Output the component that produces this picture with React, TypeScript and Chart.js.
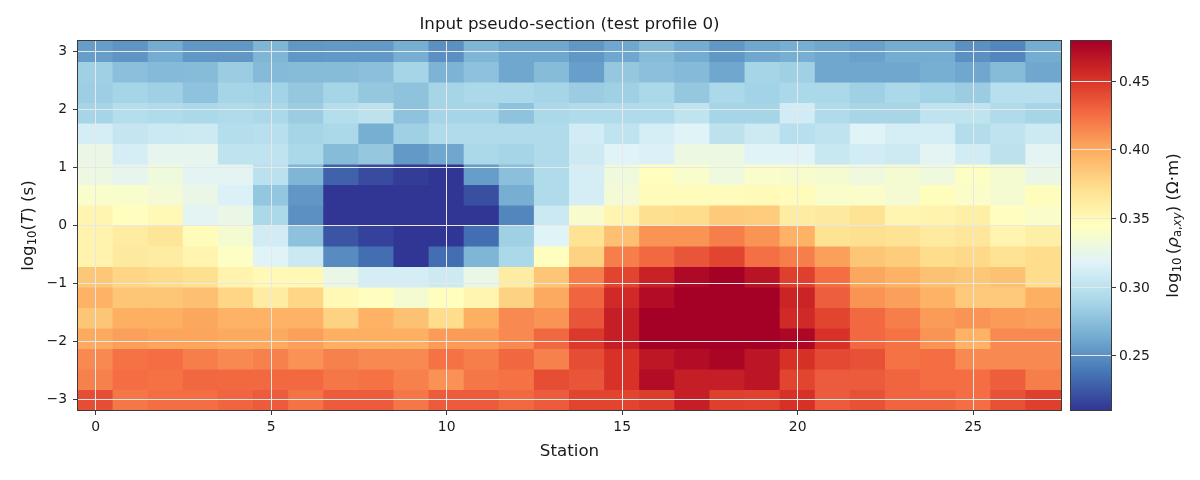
import { useEffect, useRef } from "react";
import { Chart, registerables } from "chart.js";

Chart.register(...registerables);

// Stations along the profile
const stations = [0, 1, 2, 3, 4, 5, 6, 7, 8, 9, 10, 11, 12, 13, 14, 15, 16, 17, 18, 19, 20, 21, 22, 23, 24, 25, 26, 27];

// log10 of the period T (s) for each row, from the longest period down
const logPeriods = [3.0, 2.647, 2.294, 1.941, 1.588, 1.235, 0.882, 0.529, 0.176, -0.176, -0.529, -0.882, -1.235, -1.588, -1.941, -2.294, -2.647, -3.0];

const xTickValues = [0, 5, 10, 15, 20, 25];
const yTickValues = [-3, -2, -1, 0, 1, 2, 3];
const cbTickValues = [0.25, 0.3, 0.35, 0.4, 0.45];

// log10 apparent resistivity (xy) per period row, one value per station
const rhoP00 = [0.256, 0.252, 0.264, 0.253, 0.253, 0.269, 0.253, 0.254, 0.254, 0.265, 0.250, 0.269, 0.261, 0.261, 0.253, 0.261, 0.273, 0.264, 0.253, 0.261, 0.265, 0.261, 0.258, 0.264, 0.264, 0.250, 0.245, 0.264];
const rhoP01 = [0.285, 0.275, 0.272, 0.273, 0.283, 0.272, 0.273, 0.273, 0.275, 0.288, 0.268, 0.276, 0.261, 0.273, 0.257, 0.280, 0.275, 0.272, 0.261, 0.288, 0.285, 0.261, 0.261, 0.261, 0.265, 0.261, 0.273, 0.261];
const rhoP02 = [0.284, 0.288, 0.285, 0.277, 0.288, 0.287, 0.280, 0.288, 0.280, 0.277, 0.288, 0.291, 0.291, 0.288, 0.283, 0.285, 0.291, 0.280, 0.291, 0.287, 0.291, 0.291, 0.285, 0.291, 0.287, 0.283, 0.297, 0.297];
const rhoP03 = [0.288, 0.296, 0.293, 0.291, 0.293, 0.291, 0.283, 0.296, 0.300, 0.277, 0.288, 0.288, 0.277, 0.291, 0.293, 0.293, 0.293, 0.301, 0.288, 0.288, 0.310, 0.293, 0.289, 0.289, 0.301, 0.301, 0.293, 0.288];
const rhoP04 = [0.312, 0.304, 0.307, 0.308, 0.296, 0.297, 0.288, 0.291, 0.265, 0.285, 0.293, 0.293, 0.293, 0.293, 0.310, 0.301, 0.312, 0.318, 0.300, 0.308, 0.297, 0.301, 0.318, 0.312, 0.312, 0.295, 0.301, 0.308];
const rhoP05 = [0.326, 0.312, 0.323, 0.323, 0.301, 0.301, 0.291, 0.273, 0.280, 0.254, 0.261, 0.291, 0.288, 0.293, 0.308, 0.318, 0.315, 0.328, 0.328, 0.318, 0.318, 0.305, 0.310, 0.308, 0.320, 0.310, 0.300, 0.320];
const rhoP06 = [0.328, 0.323, 0.331, 0.320, 0.320, 0.299, 0.269, 0.229, 0.219, 0.213, 0.210, 0.256, 0.275, 0.293, 0.312, 0.331, 0.345, 0.339, 0.330, 0.339, 0.338, 0.336, 0.330, 0.336, 0.330, 0.342, 0.336, 0.326];
const rhoP07 = [0.339, 0.339, 0.334, 0.326, 0.315, 0.279, 0.253, 0.210, 0.210, 0.210, 0.210, 0.221, 0.265, 0.293, 0.312, 0.334, 0.347, 0.347, 0.347, 0.349, 0.347, 0.340, 0.340, 0.335, 0.346, 0.340, 0.336, 0.346];
const rhoP08 = [0.353, 0.345, 0.350, 0.320, 0.326, 0.291, 0.250, 0.210, 0.210, 0.210, 0.210, 0.210, 0.245, 0.307, 0.338, 0.353, 0.371, 0.373, 0.384, 0.382, 0.361, 0.363, 0.369, 0.353, 0.355, 0.358, 0.345, 0.340];
const rhoP09 = [0.355, 0.361, 0.366, 0.347, 0.336, 0.310, 0.276, 0.223, 0.215, 0.210, 0.210, 0.234, 0.285, 0.318, 0.369, 0.389, 0.409, 0.409, 0.418, 0.409, 0.396, 0.369, 0.371, 0.369, 0.362, 0.365, 0.353, 0.358];
const rhoP10 = [0.355, 0.363, 0.361, 0.353, 0.342, 0.318, 0.307, 0.248, 0.234, 0.210, 0.234, 0.269, 0.291, 0.345, 0.379, 0.418, 0.427, 0.436, 0.443, 0.424, 0.418, 0.404, 0.386, 0.382, 0.373, 0.375, 0.369, 0.373];
const rhoP11 = [0.385, 0.377, 0.374, 0.371, 0.355, 0.350, 0.350, 0.326, 0.312, 0.312, 0.308, 0.326, 0.361, 0.386, 0.418, 0.443, 0.460, 0.474, 0.479, 0.468, 0.445, 0.425, 0.401, 0.396, 0.388, 0.385, 0.388, 0.373];
const rhoP12 = [0.396, 0.386, 0.386, 0.389, 0.377, 0.361, 0.377, 0.350, 0.345, 0.336, 0.345, 0.353, 0.379, 0.400, 0.429, 0.456, 0.472, 0.479, 0.479, 0.479, 0.459, 0.432, 0.409, 0.404, 0.396, 0.384, 0.384, 0.398];
const rhoP13 = [0.386, 0.398, 0.398, 0.401, 0.396, 0.396, 0.396, 0.379, 0.396, 0.388, 0.373, 0.398, 0.413, 0.409, 0.436, 0.462, 0.479, 0.479, 0.479, 0.479, 0.456, 0.443, 0.427, 0.418, 0.406, 0.409, 0.406, 0.404];
const rhoP14 = [0.400, 0.404, 0.402, 0.402, 0.400, 0.400, 0.404, 0.398, 0.398, 0.398, 0.406, 0.406, 0.413, 0.428, 0.448, 0.462, 0.479, 0.479, 0.479, 0.479, 0.475, 0.451, 0.427, 0.423, 0.409, 0.396, 0.413, 0.413];
const rhoP15 = [0.413, 0.423, 0.425, 0.418, 0.413, 0.417, 0.410, 0.417, 0.413, 0.413, 0.423, 0.418, 0.428, 0.417, 0.439, 0.451, 0.466, 0.472, 0.476, 0.467, 0.452, 0.441, 0.437, 0.423, 0.425, 0.413, 0.413, 0.413];
const rhoP16 = [0.417, 0.425, 0.423, 0.428, 0.427, 0.427, 0.427, 0.421, 0.423, 0.417, 0.410, 0.421, 0.423, 0.439, 0.436, 0.451, 0.472, 0.462, 0.462, 0.467, 0.443, 0.433, 0.433, 0.429, 0.425, 0.425, 0.432, 0.418];
const rhoP17 = [0.439, 0.421, 0.425, 0.425, 0.429, 0.433, 0.423, 0.433, 0.433, 0.421, 0.433, 0.433, 0.427, 0.433, 0.443, 0.443, 0.447, 0.462, 0.445, 0.444, 0.452, 0.433, 0.437, 0.429, 0.429, 0.425, 0.437, 0.445];

const rhoRows = [rhoP00, rhoP01, rhoP02, rhoP03, rhoP04, rhoP05, rhoP06, rhoP07, rhoP08, rhoP09, rhoP10, rhoP11, rhoP12, rhoP13, rhoP14, rhoP15, rhoP16, rhoP17];

// Colour limits follow the data range
const allValues = rhoRows.flat();
const cbMin = Math.min(...allValues);
const cbMax = Math.max(...allValues);

// RdYlBu reversed: low = blue, high = red
const RDYLBU_R = ["#313695", "#4575b4", "#74add1", "#abd9e9", "#e0f3f8", "#ffffbf", "#fee090", "#fdae61", "#f46d43", "#d73027", "#a50026"];
const cmapRgb = RDYLBU_R.map((h) => [parseInt(h.slice(1, 3), 16), parseInt(h.slice(3, 5), 16), parseInt(h.slice(5, 7), 16)]);

function colourFor(v: number): string {
  const t = Math.min(1, Math.max(0, (v - cbMin) / (cbMax - cbMin)));
  const s = t * (cmapRgb.length - 1);
  const i = Math.min(Math.floor(s), cmapRgb.length - 2);
  const f = s - i;
  const a = cmapRgb[i];
  const b = cmapRgb[i + 1];
  const c = [0, 1, 2].map((k) => Math.round(a[k] + (b[k] - a[k]) * f));
  return `rgb(${c[0]},${c[1]},${c[2]})`;
}

// Cell edges half way between neighbouring periods
function rowEdges(i: number): [number, number] {
  const p = logPeriods;
  const upper = i === 0 ? p[0] + (p[0] - p[1]) / 2 : (p[i - 1] + p[i]) / 2;
  const lower = i === p.length - 1 ? p[i] - (p[i - 1] - p[i]) / 2 : (p[i] + p[i + 1]) / 2;
  return [lower, upper];
}

const yMin = rowEdges(logPeriods.length - 1)[0];
const yMax = rowEdges(0)[1];

const FONT = '"DejaVu Sans", "Liberation Sans", sans-serif';
const TEXT = "#1a1a1a";
const FRAME = "#3a3a3a";
const GRID = "#e8e8e8";
const TICK_SIZE = 13.9;
const LABEL_SIZE = 16.7;

type Run = { text: string; scale?: number; italic?: boolean; shift?: number };

function drawRich(ctx: CanvasRenderingContext2D, runs: Run[], cx: number, cy: number, size: number, rotate: boolean) {
  ctx.save();
  ctx.translate(cx, cy);
  if (rotate) ctx.rotate(-Math.PI / 2);
  ctx.textBaseline = "alphabetic";
  ctx.textAlign = "left";
  ctx.fillStyle = TEXT;
  const fontOf = (r: Run) => `${r.italic ? "italic " : ""}${size * (r.scale ?? 1)}px ${FONT}`;
  const widths = runs.map((r) => {
    ctx.font = fontOf(r);
    return ctx.measureText(r.text).width;
  });
  const total = widths.reduce((s, w) => s + w, 0);
  let x = -total / 2;
  const base = size * 0.36;
  runs.forEach((r, i) => {
    ctx.font = fontOf(r);
    ctx.fillText(r.text, x, base + (r.shift ?? 0) * size);
    x += widths[i];
  });
  ctx.restore();
}

const decorations = {
  id: "decorations",
  afterDraw(chart: any) {
    const { ctx, chartArea: a } = chart;
    const cb = chart.scales.cb;
    ctx.save();

    // axes frame
    ctx.strokeStyle = FRAME;
    ctx.lineWidth = 1;
    ctx.strokeRect(a.left - 0.5, a.top - 0.5, a.right - a.left + 1, a.bottom - a.top + 1);

    // colour bar
    const x0 = a.right + 10;
    const w = 40;
    const yTop = cb.getPixelForValue(cbMax);
    const yBot = cb.getPixelForValue(cbMin);
    const grad = ctx.createLinearGradient(0, yBot, 0, yTop);
    RDYLBU_R.forEach((c, i) => grad.addColorStop(i / (RDYLBU_R.length - 1), c));
    ctx.fillStyle = grad;
    ctx.fillRect(x0, yTop, w, yBot - yTop);

    ctx.strokeStyle = GRID;
    cbTickValues.forEach((v) => {
      const y = Math.round(cb.getPixelForValue(v)) + 0.5;
      ctx.beginPath();
      ctx.moveTo(x0, y);
      ctx.lineTo(x0 + w, y);
      ctx.stroke();
    });

    ctx.strokeStyle = FRAME;
    ctx.strokeRect(x0 - 0.5, yTop - 0.5, w + 1, yBot - yTop + 1);

    ctx.font = `${TICK_SIZE}px ${FONT}`;
    ctx.fillStyle = TEXT;
    ctx.textAlign = "left";
    ctx.textBaseline = "middle";
    cbTickValues.forEach((v) => {
      const y = Math.round(cb.getPixelForValue(v)) + 0.5;
      ctx.beginPath();
      ctx.moveTo(x0 + w + 0.5, y);
      ctx.lineTo(x0 + w + 5, y);
      ctx.stroke();
      ctx.fillText(v.toFixed(2), x0 + w + 8, y + 1);
    });

    const midY = (a.top + a.bottom) / 2;
    const midX = (a.left + a.right) / 2;

    // colour bar label
    drawRich(
      ctx,
      [
        { text: "log" },
        { text: "10", scale: 0.7, shift: 0.2 },
        { text: "\u2009(" },
        { text: "ρ", italic: true },
        { text: "a,", scale: 0.7, shift: 0.2 },
        { text: "xy", scale: 0.7, shift: 0.2, italic: true },
        { text: ")" },
        { text: " (Ω·m)" },
      ],
      x0 + w + 61,
      midY,
      LABEL_SIZE,
      true
    );

    // y axis label
    drawRich(
      ctx,
      [
        { text: "log" },
        { text: "10", scale: 0.7, shift: 0.2 },
        { text: "(" },
        { text: "T", italic: true },
        { text: ")" },
        { text: " (s)" },
      ],
      27,
      midY,
      LABEL_SIZE,
      true
    );

    // x axis label
    ctx.font = `${LABEL_SIZE}px ${FONT}`;
    ctx.textAlign = "center";
    ctx.textBaseline = "middle";
    ctx.fillStyle = TEXT;
    ctx.fillText("Station", midX, 452);

    // title
    ctx.font = `${LABEL_SIZE}px ${FONT}`;
    ctx.fillText("Input pseudo-section (test profile 0)", midX, 25);

    ctx.restore();
  },
};

export default function App() {
  const ref = useRef<HTMLCanvasElement>(null);

  useEffect(() => {
    const datasets = rhoRows.map((row, i) => {
      const [lo, hi] = rowEdges(i);
      return {
        label: `log10 T = ${logPeriods[i]}`,
        data: row.map(() => [lo, hi]),
        backgroundColor: row.map(colourFor),
        borderWidth: 0,
        grouped: false,
        barPercentage: 1,
        categoryPercentage: 1,
        inflateAmount: 0.5,
      };
    });

    const isMajor = (index: number) => xTickValues.includes(stations[index]);

    const chart = new Chart(ref.current as HTMLCanvasElement, {
      type: "bar",
      data: { labels: stations.map(String), datasets: datasets as any },
      options: {
        responsive: false,
        animation: false,
        devicePixelRatio: 1,
        events: [],
        layout: { padding: { left: 8, top: 41, right: 139, bottom: 30 } },
        plugins: {
          legend: { display: false },
          tooltip: { enabled: false },
          title: { display: false },
        },
        scales: {
          x: {
            type: "category",
            offset: true,
            grid: {
              offset: false,
              z: 1,
              lineWidth: 1,
              color: (c: any) => (isMajor(c.index) ? GRID : "rgba(0,0,0,0)"),
              tickColor: (c: any) => (isMajor(c.index) ? FRAME : "rgba(0,0,0,0)"),
              tickLength: 5,
            },
            border: { display: false },
            ticks: {
              autoSkip: false,
              maxRotation: 0,
              padding: 4,
              color: TEXT,
              font: { family: FONT, size: TICK_SIZE },
              callback: (_v: any, index: number) => (isMajor(index) ? String(stations[index]) : ""),
            },
            afterFit: (s: any) => {
              s.height = 40;
            },
          },
          y: {
            type: "linear",
            min: yMin,
            max: yMax,
            afterBuildTicks: (s: any) => {
              s.ticks = yTickValues.map((v) => ({ value: v }));
            },
            grid: { z: 1, lineWidth: 1, color: GRID, tickColor: FRAME, tickLength: 5 },
            border: { display: false },
            ticks: {
              padding: 6,
              color: TEXT,
              font: { family: FONT, size: TICK_SIZE },
              callback: (v: any) => (Number(v) < 0 ? "\u2212" + Math.abs(Number(v)) : String(v)),
            },
            afterFit: (s: any) => {
              s.width = 70;
            },
          },
          cb: {
            type: "linear",
            axis: "y",
            position: "right",
            display: false,
            min: cbMin,
            max: cbMax,
          },
        },
      } as any,
      plugins: [decorations],
    });

    return () => chart.destroy();
  }, []);

  return (
    <div style={{ position: "fixed", left: 0, top: 0, width: 1200, height: 480, background: "#ffffff" }}>
      <canvas ref={ref} width={1200} height={480} style={{ display: "block", width: 1200, height: 480 }} />
    </div>
  );
}
